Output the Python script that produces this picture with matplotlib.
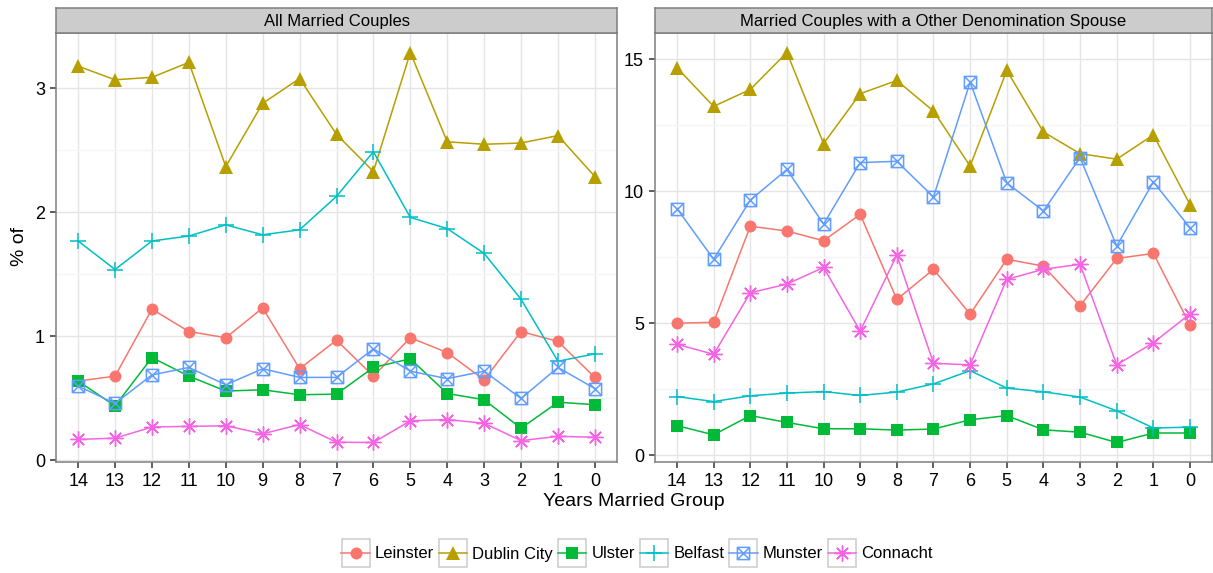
import numpy as np
import matplotlib
matplotlib.use("Agg")
import matplotlib.pyplot as plt
from matplotlib.path import Path
from matplotlib.lines import Line2D
from matplotlib.patches import Rectangle
from matplotlib.ticker import MultipleLocator, FixedLocator

plt.rcParams['font.family'] = ['Liberation Sans', 'DejaVu Sans']

years = ['14', '13', '12', '11', '10', '9', '8', '7', '6', '5', '4', '3', '2', '1', '0']
regions = ['Leinster', 'Dublin City', 'Ulster', 'Belfast', 'Munster', 'Connacht']
panel_titles = ['All Married Couples', 'Married Couples with a Other Denomination Spouse']

# left panel: all married couples (% of)
all_leinster = [0.64, 0.68, 1.22, 1.04, 0.99, 1.23, 0.74, 0.97, 0.68, 0.99, 0.87, 0.65, 1.04, 0.96, 0.67]
all_dublin = [3.18, 3.07, 3.09, 3.21, 2.37, 2.88, 3.08, 2.63, 2.33, 3.29, 2.57, 2.55, 2.56, 2.62, 2.29]
all_ulster = [0.64, 0.44, 0.83, 0.68, 0.56, 0.57, 0.53, 0.535, 0.75, 0.82, 0.54, 0.49, 0.26, 0.47, 0.45]
all_belfast = [1.77, 1.54, 1.77, 1.81, 1.90, 1.82, 1.86, 2.13, 2.49, 1.96, 1.87, 1.67, 1.30, 0.80, 0.86]
all_munster = [0.60, 0.46, 0.69, 0.75, 0.61, 0.74, 0.67, 0.67, 0.90, 0.72, 0.66, 0.72, 0.50, 0.75, 0.58]
all_connacht = [0.17, 0.18, 0.27, 0.275, 0.28, 0.215, 0.29, 0.147, 0.145, 0.32, 0.33, 0.30, 0.16, 0.195, 0.187]

# right panel: couples with an other denomination spouse (% of)
mix_leinster = [5.01, 5.04, 8.68, 8.50, 8.13, 9.13, 5.91, 7.05, 5.35, 7.43, 7.17, 5.67, 7.46, 7.65, 4.94]
mix_dublin = [14.68, 13.22, 13.86, 15.26, 11.81, 13.70, 14.20, 13.04, 10.96, 14.58, 12.25, 11.43, 11.22, 12.14, 9.50]
mix_ulster = [1.13, 0.78, 1.51, 1.25, 1.01, 1.01, 0.96, 1.00, 1.35, 1.51, 0.97, 0.88, 0.49, 0.85, 0.85]
mix_belfast = [2.23, 2.04, 2.26, 2.36, 2.42, 2.27, 2.40, 2.71, 3.21, 2.55, 2.41, 2.21, 1.69, 1.04, 1.07]
mix_munster = [9.35, 7.43, 9.67, 10.83, 8.76, 11.09, 11.14, 9.79, 14.14, 10.32, 9.26, 11.28, 7.93, 10.36, 8.62]
mix_connacht = [4.21, 3.83, 6.16, 6.49, 7.12, 4.71, 7.59, 3.49, 3.43, 6.67, 7.05, 7.24, 3.43, 4.27, 5.36]

panel_data = [
    [all_leinster, all_dublin, all_ulster, all_belfast, all_munster, all_connacht],
    [mix_leinster, mix_dublin, mix_ulster, mix_belfast, mix_munster, mix_connacht],
]
y_major = [[0, 1, 2, 3], [0, 5, 10, 15]]
y_minor = [0.5, 2.5]

colors = ['#F8766D', '#B79F00', '#00BA38', '#00BFC4', '#619CFF', '#F564E3']

# square with an x through it (ggplot shape 7)
box_x = Path([(-1, -1), (1, -1), (1, 1), (-1, 1), (-1, -1), (-1, -1), (1, 1), (-1, 1), (1, -1)],
             [Path.MOVETO, Path.LINETO, Path.LINETO, Path.LINETO, Path.CLOSEPOLY,
              Path.MOVETO, Path.LINETO, Path.MOVETO, Path.LINETO])
styles = [
    dict(marker='o', ms=8.6, mfc=colors[0], mec=colors[0], mew=0),
    dict(marker='^', ms=10, mfc=colors[1], mec=colors[1], mew=0),
    dict(marker='s', ms=8.2, mfc=colors[2], mec=colors[2], mew=0),
    dict(marker='+', ms=12, mfc='none', mec=colors[3], mew=1.1),
    dict(marker=box_x, ms=8.8, mfc='none', mec=colors[4], mew=1.1),
    dict(marker=(8, 2, 0), ms=11.5, mfc='none', mec=colors[5], mew=1.0),
]

W, H = 1213, 573
fig = plt.figure(figsize=(W / 100, H / 100), dpi=100)

panel_px = [(56, 617), (655, 1212)]
top_px, strip_top_px, bottom_px = 33, 7.5, 462
grey50 = '#7F7F7F'

x = np.arange(len(years))
for p in range(2):
    x0, x1 = panel_px[p]
    ax = fig.add_axes([x0 / W, 1 - bottom_px / H, (x1 - x0) / W, (bottom_px - top_px) / H])
    for i, name in enumerate(regions):
        ax.plot(x, panel_data[p][i], color=colors[i], lw=1.1, zorder=3, **styles[i])
    ax.set_xlim(-0.6, len(years) - 0.4)
    ax.set_xticks(x)
    ax.set_xticklabels(years)
    ax.yaxis.set_major_locator(FixedLocator(y_major[p]))
    ax.yaxis.set_minor_locator(MultipleLocator(y_minor[p]))
    ax.margins(y=0.05)
    ax.grid(which='major', color='#E5E5E5', lw=1.0, zorder=0)
    ax.grid(which='minor', axis='y', color='#F5F5F5', lw=1.0, zorder=0)
    ax.set_axisbelow(True)
    for s in ax.spines.values():
        s.set_color(grey50)
        s.set_linewidth(1.1)
    ax.tick_params(which='major', length=4.5, width=1.1, color='#333333',
                   labelsize=13, labelcolor='black', pad=3.5)
    ax.tick_params(which='minor', length=0)

    sax = fig.add_axes([x0 / W, 1 - top_px / H, (x1 - x0) / W, (top_px - strip_top_px) / H])
    sax.set_facecolor('#CCCCCC')
    sax.set_xticks([])
    sax.set_yticks([])
    for s in sax.spines.values():
        s.set_color(grey50)
        s.set_linewidth(1.1)
    sax.text(0.5, 0.47, panel_titles[p], ha='center', va='center', fontsize=12, transform=sax.transAxes)

fig.text(634 / W, 1 - 502 / H, 'Years Married Group', ha='center', va='center', fontsize=14)
fig.text(20 / W, 1 - 247 / H, '% of', ha='center', va='center', rotation=90, fontsize=14)

handles = [Line2D([], [], color=colors[i], lw=1.1, **styles[i]) for i in range(len(regions))]
leg = fig.legend(handles, regions, loc='center', bbox_to_anchor=(637 / W, 1 - 554 / H),
                 ncol=6, frameon=False, fontsize=12, handlelength=1.7, handletextpad=0.3,
                 columnspacing=0.3, borderaxespad=0)
fig.canvas.draw()
inv = fig.transFigure.inverted()
for h in leg.legend_handles:
    bb = h.get_window_extent(fig.canvas.get_renderer())
    cx, cy = (bb.x0 + bb.x1) / 2, (bb.y0 + bb.y1) / 2
    (fx0, fy0) = inv.transform((cx - 14, cy - 14))
    (fx1, fy1) = inv.transform((cx + 14, cy + 14))
    fig.patches.append(Rectangle((fx0, fy0), fx1 - fx0, fy1 - fy0, transform=fig.transFigure,
                                 facecolor='white', edgecolor='#CCCCCC', lw=1.1, zorder=1,
                                 figure=fig))

fig.savefig('out.png', dpi=100)
